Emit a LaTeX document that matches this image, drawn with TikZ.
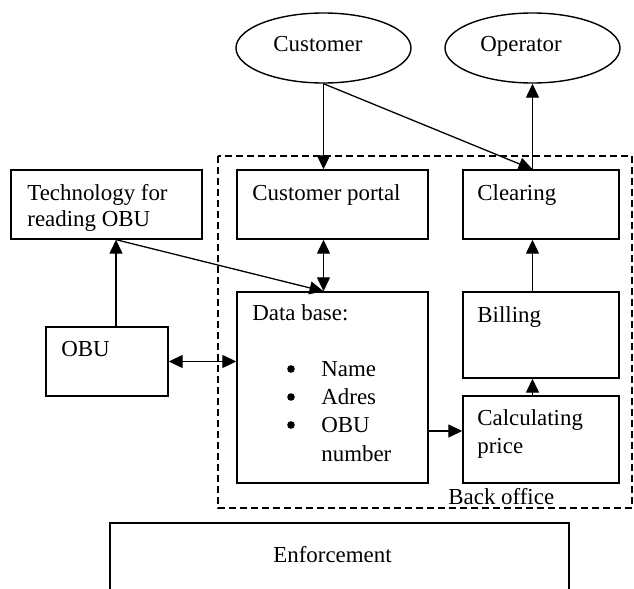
\documentclass[tikz,border=0pt]{standalone}
\usepackage{fontspec}
\setmainfont{Liberation Serif}
\usetikzlibrary{arrows.meta,shapes.geometric,fit,calc}
\begin{document}
\begin{tikzpicture}[x=0.5pt,y=-0.5pt,
  font=\fontsize{11.45pt}{14pt}\selectfont,
  box/.style={draw,line width=0.7pt,inner sep=0pt},
  ell/.style={draw,ellipse,line width=0.7pt,inner sep=0pt,minimum width=87.5pt,minimum height=35pt},
  txt/.style={inner sep=0pt,anchor=base west},
  bul/.style={circle,fill,inner sep=0pt,minimum size=3.8pt},
  conn/.style={line width=0.65pt,-{Triangle[length=7pt,width=6.5pt]}},
  dconn/.style={line width=0.65pt,{Triangle[length=7pt,width=6.5pt]}-{Triangle[length=7pt,width=6.5pt]}},
  office/.style={draw,line width=0.8pt,dash pattern=on 3.5pt off 2pt},
  enfbox/.style={draw,line width=0.7pt}
]
\useasboundingbox (0,0) rectangle (634,589);

% back office frame
\draw[office] (218,156) rectangle (632,508);
\node[txt] (backt) at (448,505) {Back office};

% ellipses
\node[ell] (cust) at (323.5,48) {};
\node[txt] (custt) at (273,52) {Customer};
\node[ell] (oper) at (532.5,48) {};
\node[txt] (opert) at (480,52) {Operator};

% boxes
\node[box,fit={(11,170) (202,239)}] (tech) {};
\node[txt] (techt1) at (27,200) {Technology for};
\node[txt] (techt2) at (27,227) {reading OBU};

\node[box,fit={(237,170) (428,239)}] (portal) {};
\node[txt] (portalt) at (252,200) {Customer portal};

\node[box,fit={(463,170) (619,239)}] (clear) {};
\node[txt] (cleart) at (477,200) {Clearing};

\node[box,fit={(237,292) (428,483)}] (db) {};
\node[txt] (dbt) at (252,321) {Data base:};
\node[bul] (b1) at (291,369) {};
\node[bul] (b2) at (291,397) {};
\node[bul] (b3) at (291,425) {};
\node[txt] (i1) at (321,377) {Name};
\node[txt] (i2) at (321,405) {Adres};
\node[txt] (i3) at (321,433) {OBU};
\node[txt] (i4) at (321,461) {number};

\node[box,fit={(463,292) (619,378)}] (bill) {};
\node[txt] (billt) at (477,322) {Billing};

\node[box,fit={(463,396) (619,483)}] (calc) {};
\node[txt] (calct1) at (477,426) {Calculating};
\node[txt] (calct2) at (477,453) {price};

\node[box,fit={(46,327) (168,396)}] (obu) {};
\node[txt] (obut) at (61,357) {OBU};

% enforcement (open at bottom)
\draw[enfbox] (110,589) -- (110,523) -- (569,523) -- (569,589);
\node[txt] (enft) at (273,563) {Enforcement};

% connector anchors
\coordinate (obux) at (116,0);
\coordinate (dbout) at (428,431);

% connectors
\draw[conn] (cust.south) -- (cust.south |- portal.north);
\draw[conn] (cust.south) -- (oper.south |- clear.north);
\draw[conn] (oper.south |- clear.north) -- (oper.south);
\draw[dconn] (cust.south |- portal.south) -- (cust.south |- db.north);
\draw[conn] (obux |- tech.south) -- (cust.south |- db.north);
\draw[conn] (obux |- obu.north) -- (obux |- tech.south);
\draw[dconn] (obu.east) -- (obu.east -| db.west);
\draw[conn] (dbout) -- (dbout -| calc.west);
\draw[conn] (oper.south |- calc.north) -- (oper.south |- bill.south);
\draw[conn] (oper.south |- bill.north) -- (oper.south |- clear.south);
\end{tikzpicture}
\end{document}
